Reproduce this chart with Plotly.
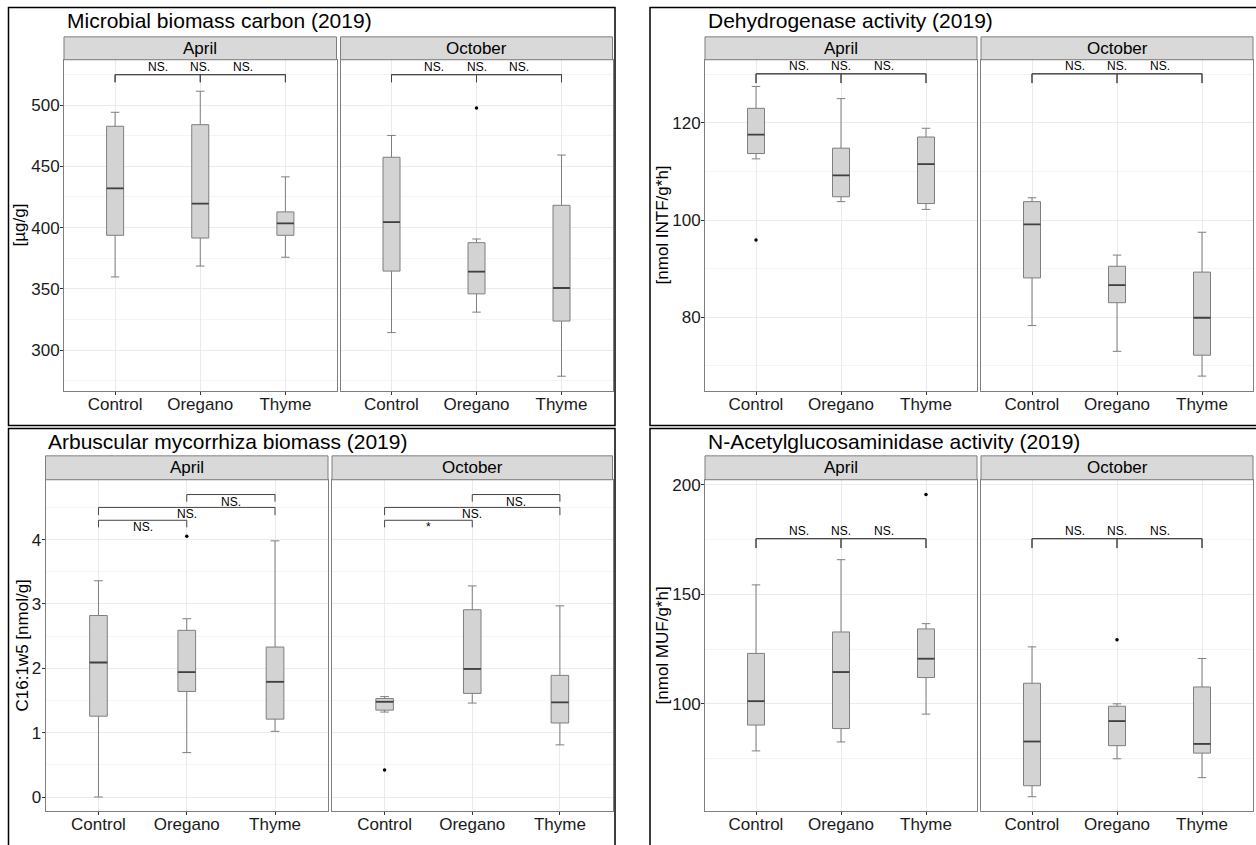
import plotly.graph_objects as go

GROUPS = ["Control", "Oregano", "Thyme"]
SEASONS = ["April", "October"]

# ---- Microbial biomass carbon (2019) [µg/g] ----
mbc_apr_low = [359.7, 368.6, 375.8]
mbc_apr_q1 = [393.7, 391.5, 393.7]
mbc_apr_med = [432.0, 419.6, 403.4]
mbc_apr_q3 = [482.7, 484.0, 412.8]
mbc_apr_high = [494.1, 511.3, 441.4]
mbc_oct_low = [314.3, 331.0, 278.7]
mbc_oct_q1 = [364.5, 345.9, 323.7]
mbc_oct_med = [404.5, 364.0, 350.7]
mbc_oct_q3 = [457.4, 387.7, 418.2]
mbc_oct_high = [475.2, 390.7, 459.2]
mbc_apr_out_grp, mbc_apr_out_val = [], []
mbc_oct_out_grp, mbc_oct_out_val = ["Oregano"], [497.6]

# ---- Dehydrogenase activity (2019) [nmol INTF/g*h] ----
dha_apr_low = [112.6, 103.8, 102.2]
dha_apr_q1 = [113.7, 104.8, 103.4]
dha_apr_med = [117.6, 109.2, 111.5]
dha_apr_q3 = [123.0, 114.8, 117.1]
dha_apr_high = [127.5, 125.0, 118.9]
dha_oct_low = [78.3, 73.0, 67.9]
dha_oct_q1 = [88.1, 83.0, 72.2]
dha_oct_med = [99.1, 86.6, 79.9]
dha_oct_q3 = [103.8, 90.5, 89.3]
dha_oct_high = [104.6, 92.8, 97.5]
dha_apr_out_grp, dha_apr_out_val = ["Control"], [95.9]
dha_oct_out_grp, dha_oct_out_val = [], []

# ---- Arbuscular mycorrhiza biomass (2019) C16:1w5 [nmol/g] ----
amf_apr_low = [0.0, 0.69, 1.02]
amf_apr_q1 = [1.256, 1.64, 1.21]
amf_apr_med = [2.09, 1.94, 1.79]
amf_apr_q3 = [2.82, 2.59, 2.33]
amf_apr_high = [3.36, 2.77, 3.98]
amf_oct_low = [1.32, 1.46, 0.81]
amf_oct_q1 = [1.35, 1.61, 1.15]
amf_oct_med = [1.48, 1.99, 1.47]
amf_oct_q3 = [1.53, 2.91, 1.89]
amf_oct_high = [1.56, 3.28, 2.97]
amf_apr_out_grp, amf_apr_out_val = ["Oregano"], [4.05]
amf_oct_out_grp, amf_oct_out_val = ["Control"], [0.42]

# ---- N-Acetylglucosaminidase activity (2019) [nmol MUF/g*h] ----
nag_apr_low = [78.5, 82.6, 95.3]
nag_apr_q1 = [90.3, 88.7, 112.0]
nag_apr_med = [101.2, 114.5, 120.6]
nag_apr_q3 = [123.0, 132.8, 134.2]
nag_apr_high = [154.3, 165.8, 136.6]
nag_oct_low = [57.6, 74.9, 66.3]
nag_oct_q1 = [62.6, 80.9, 77.5]
nag_oct_med = [82.8, 92.1, 81.7]
nag_oct_q3 = [109.4, 98.9, 107.7]
nag_oct_high = [126.0, 100.0, 120.7]
nag_apr_out_grp, nag_apr_out_val = ["Thyme"], [195.6]
nag_oct_out_grp, nag_oct_out_val = ["Oregano"], [129.3]

# ---- significance brackets: (group1, group2, line y, tip y) and labels ----
PAIRS = [("Control", "Oregano"), ("Control", "Thyme"), ("Oregano", "Thyme")]
mbc_sig_y = [524.8, 524.8, 524.8]
mbc_sig_tip = [518.6, 518.6, 518.6]
mbc_sig_apr = ["NS.", "NS.", "NS."]
mbc_sig_oct = ["NS.", "NS.", "NS."]
dha_sig_y = [130.1, 130.1, 130.1]
dha_sig_tip = [128.2, 128.2, 128.2]
dha_sig_apr = ["NS.", "NS.", "NS."]
dha_sig_oct = ["NS.", "NS.", "NS."]
amf_sig_y = [4.30, 4.50, 4.70]
amf_sig_tip = [4.19, 4.38, 4.59]
amf_sig_apr = ["NS.", "NS.", "NS."]
amf_sig_oct = ["*", "NS.", "NS."]
nag_sig_y = [175.4, 175.4, 175.4]
nag_sig_tip = [171.1, 171.1, 171.1]
nag_sig_apr = ["NS.", "NS.", "NS."]
nag_sig_oct = ["NS.", "NS.", "NS."]

# ---------------------------------------------------------------------------
W, H = 1256, 845
DY = 4  # page offset compensation (px)
FONT = "Liberation Sans, Arial, sans-serif"


def px(v):
    return v / W


def py(v):
    return 1 - (v - DY) / H


panels = [
    dict(title="Microbial biomass carbon (2019)", ytitle="[µg/g]",
         stats=[(mbc_apr_low, mbc_apr_q1, mbc_apr_med, mbc_apr_q3, mbc_apr_high, mbc_apr_out_grp, mbc_apr_out_val, mbc_sig_apr),
                (mbc_oct_low, mbc_oct_q1, mbc_oct_med, mbc_oct_q3, mbc_oct_high, mbc_oct_out_grp, mbc_oct_out_val, mbc_sig_oct)],
         sig_y=mbc_sig_y, sig_tip=mbc_sig_tip, label_above=True,
         yrange=[266.5, 537], tick0=300, dtick=50, minor=25,
         xd=[(64, 336.5), (340.5, 612.5)], top=60, bottom=393, strip=(37, 60),
         title_x=65, title_y=20.5, ytitle_x=19, box=(8.5, 7.5, 615, 427.5)),
    dict(title="Dehydrogenase activity (2019)", ytitle="[nmol INTF/g*h]",
         stats=[(dha_apr_low, dha_apr_q1, dha_apr_med, dha_apr_q3, dha_apr_high, dha_apr_out_grp, dha_apr_out_val, dha_sig_apr),
                (dha_oct_low, dha_oct_q1, dha_oct_med, dha_oct_q3, dha_oct_high, dha_oct_out_grp, dha_oct_out_val, dha_sig_oct)],
         sig_y=dha_sig_y, sig_tip=dha_sig_tip, label_above=True,
         yrange=[64.8, 133], tick0=80, dtick=20, minor=10,
         xd=[(705, 977), (981, 1253)], top=60, bottom=393, strip=(37, 60),
         title_x=705.5, title_y=20.5, ytitle_x=662, box=(650, 7.5, 1260, 427.5)),
    dict(title="Arbuscular mycorrhiza biomass (2019)", ytitle="C16:1w5 [nmol/g]",
         stats=[(amf_apr_low, amf_apr_q1, amf_apr_med, amf_apr_q3, amf_apr_high, amf_apr_out_grp, amf_apr_out_val, amf_sig_apr),
                (amf_oct_low, amf_oct_q1, amf_oct_med, amf_oct_q3, amf_oct_high, amf_oct_out_grp, amf_oct_out_val, amf_sig_oct)],
         sig_y=amf_sig_y, sig_tip=amf_sig_tip, label_above=False,
         yrange=[-0.22, 4.93], tick0=0, dtick=1, minor=0.5,
         xd=[(45.5, 328), (332, 612.5)], top=482, bottom=815, strip=(458, 482),
         title_x=45.5, title_y=443.5, ytitle_x=22, box=(8.5, 430.5, 615, 850)),
    dict(title="N-Acetylglucosaminidase activity (2019)", ytitle="[nmol MUF/g*h]",
         stats=[(nag_apr_low, nag_apr_q1, nag_apr_med, nag_apr_q3, nag_apr_high, nag_apr_out_grp, nag_apr_out_val, nag_sig_apr),
                (nag_oct_low, nag_oct_q1, nag_oct_med, nag_oct_q3, nag_oct_high, nag_oct_out_grp, nag_oct_out_val, nag_sig_oct)],
         sig_y=nag_sig_y, sig_tip=nag_sig_tip, label_above=True,
         yrange=[51, 202.3], tick0=100, dtick=50, minor=25,
         xd=[(705, 977), (981, 1253)], top=482, bottom=815, strip=(458, 482),
         title_x=705.5, title_y=443.5, ytitle_x=662, box=(650, 430.5, 1260, 850)),
]

fig = go.Figure()
shapes, annotations = [], []
layout = dict(width=W, height=H, margin=dict(l=0, r=0, t=0, b=0), autosize=False,
              paper_bgcolor="white", plot_bgcolor="white", showlegend=False,
              font=dict(family=FONT, color="black"))

BOX_W = 0.2
pos = {g: i + 1 for i, g in enumerate(GROUPS)}
k = 0
for p in panels:
    # outer border of the sub-figure
    x0, y0, x1, y1 = p["box"]
    shapes.append(dict(type="rect", xref="paper", yref="paper", x0=px(x0), x1=px(x1),
                       y0=py(y1), y1=py(y0), line=dict(color="black", width=1.5), layer="above"))
    annotations.append(dict(text=p["title"], xref="paper", yref="paper", x=px(p["title_x"]),
                            y=py(p["title_y"]), xanchor="left", yanchor="middle", showarrow=False,
                            font=dict(size=21, color="black")))
    annotations.append(dict(text=p["ytitle"], xref="paper", yref="paper", x=px(p["ytitle_x"]),
                            y=py((p["top"] + p["bottom"]) / 2), xanchor="center", yanchor="middle",
                            textangle=-90, showarrow=False, font=dict(size=17, color="black")))
    for si, season in enumerate(SEASONS):
        k += 1
        xa = "x" if k == 1 else f"x{k}"
        ya = "y" if k == 1 else f"y{k}"
        low, q1, med, q3, high, og, ov, labels = p["stats"][si]
        xs = [pos[g] for g in GROUPS]
        fig.add_trace(go.Box(x=xs, q1=q1, median=med, q3=q3, lowerfence=low, upperfence=high,
                             width=BOX_W, whiskerwidth=0.5, boxpoints=False,
                             fillcolor="#D3D3D3", line=dict(color="#7F7F7F", width=1),
                             xaxis=xa, yaxis=ya, hoverinfo="skip"))
        mx, my = [], []
        for xv, m in zip(xs, med):
            mx += [xv - BOX_W / 2, xv + BOX_W / 2, None]
            my += [m, m, None]
        fig.add_trace(go.Scatter(x=mx, y=my, mode="lines", line=dict(color="#404040", width=1.8),
                                 xaxis=xa, yaxis=ya, hoverinfo="skip"))
        if ov:
            fig.add_trace(go.Scatter(x=[pos[g] for g in og], y=ov, mode="markers",
                                     marker=dict(color="black", size=3.5),
                                     xaxis=xa, yaxis=ya, hoverinfo="skip"))
        # significance brackets
        for (g1, g2), yl, yt, lab in zip(PAIRS, p["sig_y"], p["sig_tip"], labels):
            a, b = pos[g1], pos[g2]
            shapes.append(dict(type="path", xref=xa, yref=ya,
                               path=f"M {a} {yt} L {a} {yl} L {b} {yl} L {b} {yt}",
                               line=dict(color="#444444", width=1)))
            if p["label_above"]:
                annotations.append(dict(text=lab, xref=xa, yref=ya, x=(a + b) / 2, y=yl,
                                        xanchor="center", yanchor="bottom", showarrow=False,
                                        font=dict(size=12, color="black"), yshift=-1))
            else:
                annotations.append(dict(text=lab, xref=xa, yref=ya, x=(a + b) / 2, y=yl,
                                        xanchor="center", yanchor="top", showarrow=False,
                                        font=dict(size=12, color="black"), yshift=2))
        # strip
        dx0, dx1 = p["xd"][si]
        s0, s1 = p["strip"]
        shapes.append(dict(type="rect", xref="paper", yref="paper", x0=px(dx0), x1=px(dx1),
                           y0=py(s1), y1=py(s0), fillcolor="#D9D9D9",
                           line=dict(color="#7F7F7F", width=1)))
        annotations.append(dict(text=season, xref="paper", yref="paper", x=px((dx0 + dx1) / 2),
                                y=py((s0 + s1) / 2), xanchor="center", yanchor="middle",
                                showarrow=False, font=dict(size=17, color="black")))
        first = si == 0
        layout[f"xaxis{k}"] = dict(domain=[px(dx0), px(dx1)], anchor=ya, range=[0.4, 3.6],
                                   tickvals=xs, ticktext=GROUPS, showline=True, mirror=True,
                                   linecolor="#7F7F7F", linewidth=1, ticks="outside", ticklen=3,
                                   tickcolor="#333333", showgrid=True, gridcolor="#EBEBEB",
                                   zeroline=False, fixedrange=True, ticklabelstandoff=-6,
                                   tickfont=dict(size=17, color="#1A1A1A"))
        layout[f"yaxis{k}"] = dict(domain=[py(p["bottom"]), py(p["top"])], anchor=xa,
                                   range=p["yrange"], tick0=p["tick0"], dtick=p["dtick"],
                                   showline=True, mirror=True, linecolor="#7F7F7F", linewidth=1,
                                   showticklabels=first, ticks="outside" if first else "",
                                   ticklen=3, tickcolor="#333333", showgrid=True,
                                   gridcolor="#EBEBEB", zeroline=False, fixedrange=True,
                                   ticklabelstandoff=-3,
                                   minor=dict(dtick=p["minor"], showgrid=True, gridcolor="#F4F4F4"),
                                   tickfont=dict(size=17, color="#1A1A1A"))

layout["shapes"] = shapes
layout["annotations"] = annotations
fig.update_layout(**layout)
fig.write_html(
    "out.html",
    config={"displayModeBar": False},
    post_script=(
        "document.documentElement.style.margin='0';"
        "document.body.style.margin='0';document.body.style.padding='0';"
        "document.body.style.overflow='hidden';"
    ),
)
